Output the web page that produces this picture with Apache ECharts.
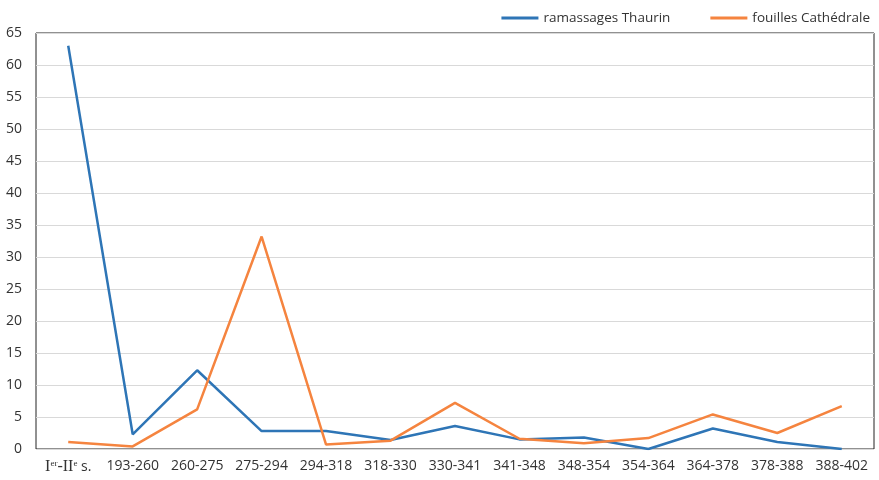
<!DOCTYPE html>
<html lang="fr">
  <head>
    <meta charset="UTF-8" />
    <title>Ramassages Thaurin / fouilles Cathédrale</title>
    <script src="https://cdn.jsdelivr.net/npm/echarts@6/dist/echarts.min.js"></script>
    <style>
      body { margin: 0; background: #fff; }
    </style>
  </head>
  <body>
    <div id="main" style="width: 879px; height: 480px"></div>
    <script type="text/javascript">
      // periods on the x axis (the first one is drawn with rich text)
      const categories = [
        "Ier-IIe s.", "193-260", "260-275", "275-294", "294-318", "318-330", "330-341",
        "341-348", "348-354", "354-364", "364-378", "378-388", "388-402"
      ];
      // values
      const thaurin = [63, 2.3, 12.3, 2.8, 2.8, 1.4, 3.6, 1.5, 1.8, 0, 3.2, 1.1, 0];
      const cathedrale = [1.1, 0.4, 6.2, 33.2, 0.7, 1.3, 7.2, 1.6, 0.9, 1.7, 5.4, 2.5, 6.7];

      const blue = "#2e75b6";
      const orange = "#f5843f";
      const font = "'Open Sans', 'Noto Sans', sans-serif";

      let myChart = echarts.init(document.getElementById("main"));

      let options = {
        animation: false,
        textStyle: { fontFamily: font },
        legend: {
          top: 6,
          right: 4,
          itemWidth: 37,
          itemHeight: 3,
          itemGap: 40,
          icon: "rect",
          textStyle: { fontSize: 13.5, color: "#333", fontFamily: font },
          data: ["ramassages Thaurin", "fouilles Cathédrale"]
        },
        grid: {
          left: 36,
          top: 33,
          right: 5,
          bottom: 31,
          show: true,
          borderColor: "#222",
          borderWidth: 1
        },
        xAxis: {
          type: "category",
          data: categories,
          boundaryGap: true,
          axisLine: { show: false },
          axisTick: { show: false },
          axisLabel: {
            interval: 0,
            margin: 10,
            fontSize: 14,
            color: "#333",
            formatter: function (value, idx) {
              if (idx === 0) {
                return "{r|I}{s|er}{r|-II}{s|e}{t| s.}";
              }
              return value;
            },
            rich: {
              r: { fontFamily: "'Liberation Serif', serif", fontSize: 16, color: "#333" },
              s: { fontFamily: "'Liberation Serif', serif", fontSize: 9, color: "#333", verticalAlign: "top", padding: [0, 0, 7, 0] },
              t: { fontFamily: font, fontSize: 14, color: "#333" }
            }
          }
        },
        yAxis: {
          type: "value",
          min: 0,
          max: 65,
          interval: 5,
          axisLine: { show: false },
          axisTick: { show: false },
          axisLabel: { fontSize: 14, color: "#333", margin: 14 },
          splitLine: { lineStyle: { color: "#d9d9d9", width: 1 } }
        },
        series: [
          {
            name: "ramassages Thaurin",
            type: "line",
            data: thaurin,
            symbol: "none",
            lineStyle: { color: blue, width: 2.5 },
            itemStyle: { color: blue }
          },
          {
            name: "fouilles Cathédrale",
            type: "line",
            data: cathedrale,
            symbol: "none",
            lineStyle: { color: orange, width: 2.5 },
            itemStyle: { color: orange }
          }
        ]
      };

      myChart.setOption(options);
    </script>
  </body>
</html>
